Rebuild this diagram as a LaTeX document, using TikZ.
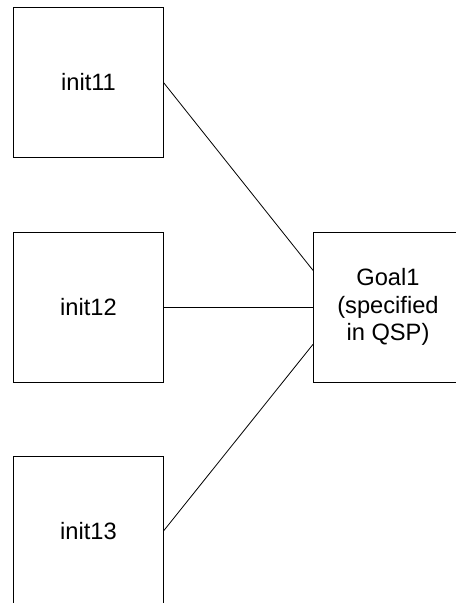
\documentclass[tikz,border=0pt]{standalone}
\usepackage{fontspec}
\setmainfont{Liberation Sans}
\usetikzlibrary{positioning}

\begin{document}
\begin{tikzpicture}[x=0.75pt, y=-0.75pt, line width=0.6pt,
    state/.style={draw, minimum width=112.5pt, minimum height=112.5pt,
      inner sep=0pt, outer sep=0pt, align=center,
      font=\fontsize{17.75}{20.5}\selectfont}]
  \useasboundingbox (0,0) rectangle (455,603);
  % initial states on the left, goal on the right
  \node[state] (init11) at (88.5,82.5) {init11};
  \node[state] (init12) at (88.5,307) {init12};
  \node[state] (init13) at (88.5,531) {init13};
  \node[state] (goal1) at (388,307) {Goal1\\(specified\\in QSP)};
  \draw (init11.east) -- ([yshift=27.5pt]goal1.west);
  \draw (init12.east) -- (goal1.west);
  \draw (init13.east) -- ([yshift=-28pt]goal1.west);
\end{tikzpicture}
\end{document}
